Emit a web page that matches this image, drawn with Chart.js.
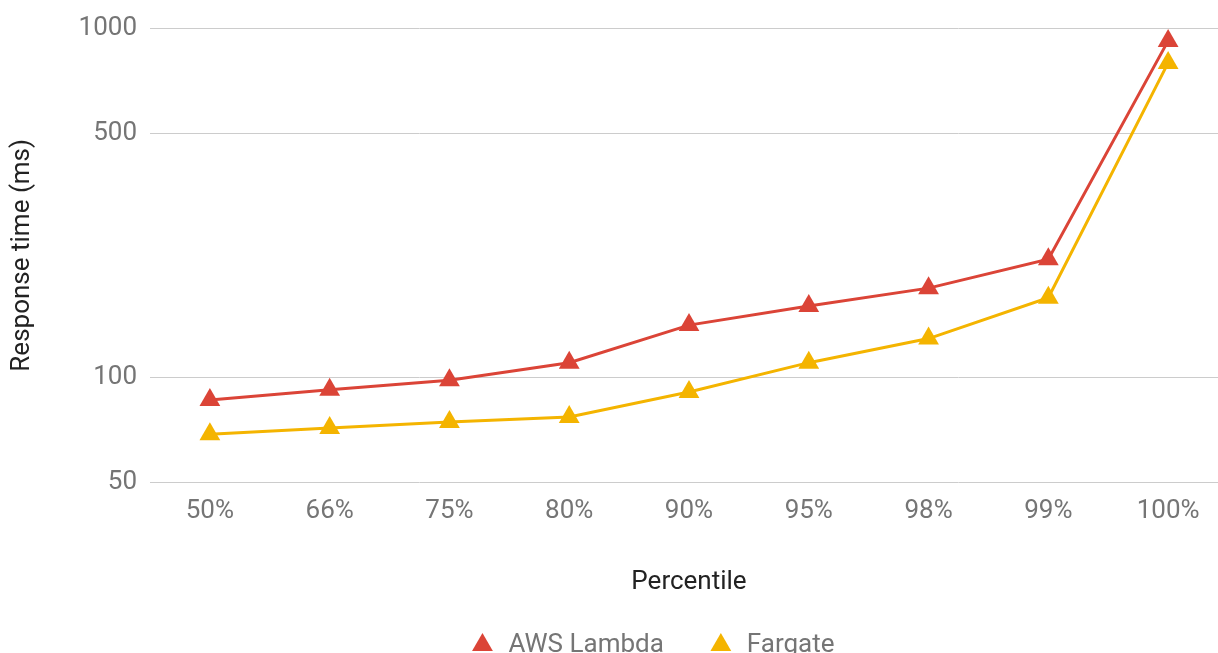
<!DOCTYPE html>
<html>
<head>
<meta charset="utf-8">
<script src="https://cdn.jsdelivr.net/npm/chart.js@4.4.0/dist/chart.umd.min.js"></script>
<style>
  html, body { margin: 0; padding: 0; background: #fff; overflow: hidden; }
  #wrap { width: 1240px; height: 668px; }
</style>
</head>
<body>
<div id="wrap"><canvas id="latencyChart"></canvas></div>
<script>
// data
const percentiles = ['50%', '66%', '75%', '80%', '90%', '95%', '98%', '99%', '100%'];
const lambdaMs = [86, 92, 98, 110, 141, 160, 180, 218, 922];
const fargateMs = [68.6, 71.4, 74.3, 76.8, 90.6, 110, 129, 169, 797];
const yTicks = [50, 100, 500, 1000];

const red = '#db4437';
const yellow = '#f4b400';
const font = { family: 'Roboto', size: 26 };

const ctx = document.getElementById('latencyChart').getContext('2d');
const latencyChart = new Chart(ctx, {
    type: 'line',
    data: {
        labels: percentiles,
        datasets: [{
            label: 'AWS Lambda',
            data: lambdaMs,
            borderColor: red,
            backgroundColor: red,
            borderWidth: 3,
            pointStyle: 'triangle',
            pointRadius: 12,
            pointBorderWidth: 0,
            tension: 0
        }, {
            label: 'Fargate',
            data: fargateMs,
            borderColor: yellow,
            backgroundColor: yellow,
            borderWidth: 3,
            pointStyle: 'triangle',
            pointRadius: 12,
            pointBorderWidth: 0,
            tension: 0
        }]
    },
    options: {
        responsive: true,
        maintainAspectRatio: false,
        animation: false,
        layout: {
            padding: { left: 74, right: 10, top: 28, bottom: 0 }
        },
        plugins: {
            tooltip: { enabled: false },
            legend: {
                position: 'bottom',
                labels: {
                    usePointStyle: true,
                    boxHeight: 17,
                    padding: 44,
                    color: '#757575',
                    font: font
                }
            }
        },
        scales: {
            x: {
                offset: true,
                grid: { display: false, drawTicks: false },
                border: { display: false },
                ticks: { color: '#757575', font: font, padding: 14, maxRotation: 0 },
                title: {
                    display: true,
                    text: 'Percentile',
                    color: '#222',
                    font: font,
                    padding: { top: 4, bottom: -10 }
                },
                afterFit: (scale) => { scale.height = 106; }
            },
            y: {
                type: 'logarithmic',
                min: 50,
                max: 1000,
                grid: { color: '#cccccc', lineWidth: 1, drawTicks: false },
                border: { display: false },
                ticks: {
                    color: '#757575',
                    font: font,
                    padding: 13,
                    callback: (v) => String(v)
                },
                afterBuildTicks: (scale) => {
                    scale.ticks = yTicks.map(v => ({ value: v }));
                },
                title: {
                    display: true,
                    text: 'Response time (ms)',
                    color: '#222',
                    font: font,
                    padding: { top: -67, bottom: 0 }
                },
                afterFit: (scale) => { scale.width = 76; }
            }
        }
    }
});
</script>
</body>
</html>
